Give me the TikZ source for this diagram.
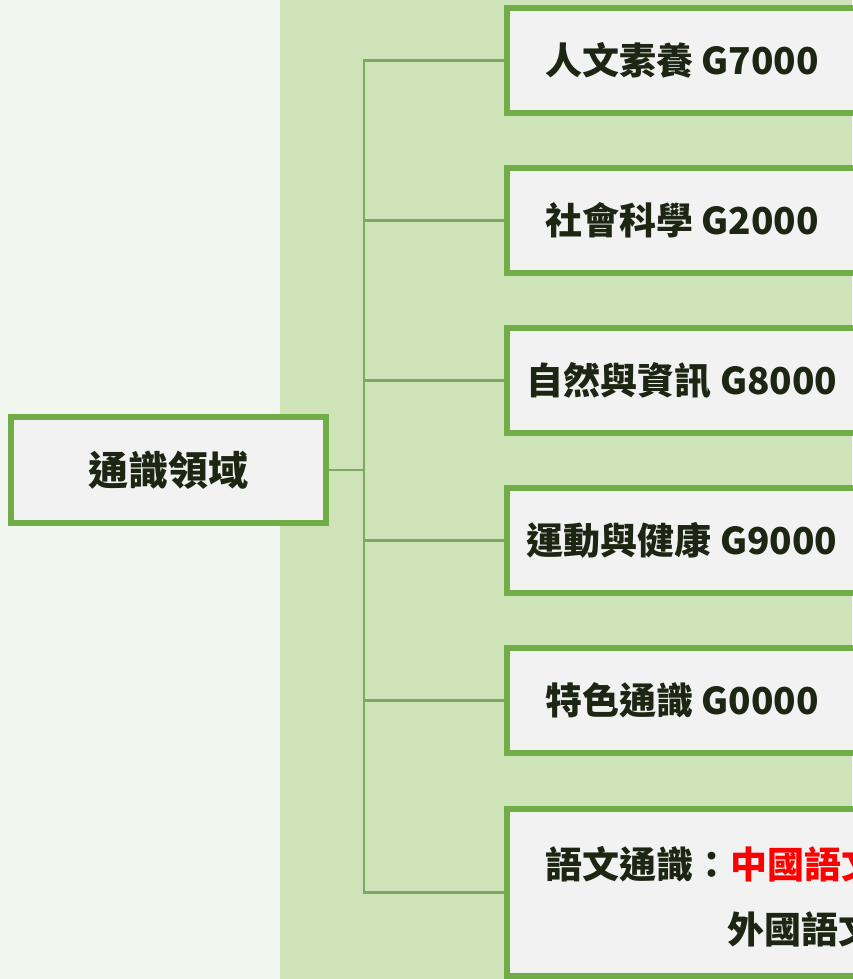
\documentclass[tikz,border=0pt]{standalone}
\usepackage{fontspec}
\newfontfamily\cjk{Noto Sans CJK TC}
\definecolor{bgleft}{RGB}{241,247,238}
\definecolor{band}{RGB}{206,227,183}
\definecolor{boxline}{RGB}{112,173,71}
\definecolor{linkline}{RGB}{122,169,96}
\definecolor{boxfill}{RGB}{242,242,242}
\definecolor{txt}{RGB}{28,38,18}

\begin{document}
\begin{tikzpicture}
  [x=1pt,y=-1pt,
   every node/.style={font=\cjk\bfseries\fontsize{37}{46}\selectfont,text=txt,inner sep=0pt},
   areabox/.style={draw=boxline,line width=6pt,fill=boxfill,minimum width=350pt,minimum height=105pt},
   link/.style={draw=linkline,line width=2.3pt}]
  % fondo y franja verde
  \useasboundingbox (0,0) rectangle (852,979);
  \fill[bgleft] (0,0) rectangle (852,979);
  \fill[band] (280,0) rectangle (852,979);

  % nodo raiz
  \node[areabox,minimum width=315pt,minimum height=106pt,
        font=\cjk\bfseries\fontsize{40}{46}\selectfont] (root) at (168.5,470) {通識領域};
  \coordinate (hub) at (364,470);

  % areas
  \node[areabox] (a1) at (682,60.5)  {人文素養 G7000};
  \node[areabox] (a2) at (682,220.5) {社會科學 G2000};
  \node[areabox] (a3) at (682,380.5) {自然與資訊 G8000};
  \node[areabox] (a4) at (682,540.5) {運動與健康 G9000};
  \node[areabox] (a5) at (682,700.5) {特色通識 G0000};
  \node[areabox,minimum height=167pt] (a6) at (682,892.5) {};
  \node[anchor=west] (a6l1) at (545,864) {語文通識：\textcolor{red}{中國語文}};
  \node[anchor=west] (a6l2) at (727,929) {外國語文};

  % conectores
  \draw[link] (root.east) -- (hub);
  \foreach \to in {a1,a2,a3,a4,a5,a6}
    \draw[link] (hub) |- (\to.west);
\end{tikzpicture}
\end{document}
